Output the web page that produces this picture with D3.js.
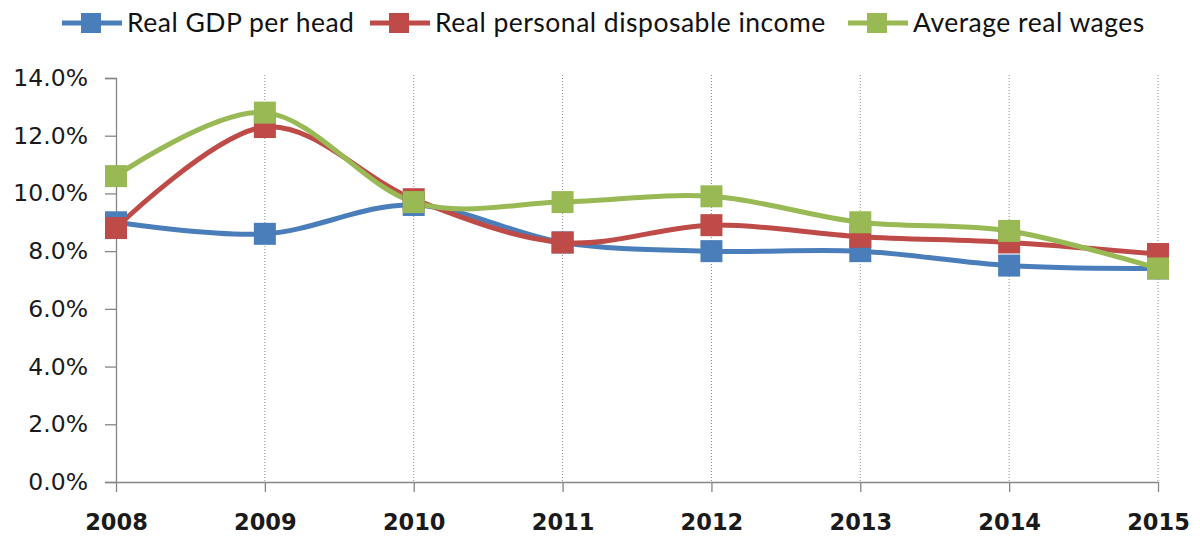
<!DOCTYPE html>
<html>
<head>
<meta charset="utf-8">
<script src="https://cdn.jsdelivr.net/npm/d3@7"></script>
<style>
  body { margin: 0; background: #fff; }
  svg { display: block; }
</style>
</head>
<body>
<div id="chart"></div>
<script>
// chart data
const years = ["2008", "2009", "2010", "2011", "2012", "2013", "2014", "2015"];
const gdpPerHead = [9.0, 8.6, 9.6, 8.3, 8.0, 8.0, 7.5, 7.4];
const disposableIncome = [8.8, 12.3, 9.8, 8.3, 8.9, 8.5, 8.3, 7.9];
const realWages = [10.6, 12.8, 9.7, 9.7, 9.9, 9.0, 8.7, 7.4];
const yTicks = [0, 2, 4, 6, 8, 10, 12, 14];

const seriesNames = ["Real GDP per head", "Real personal disposable income", "Average real wages"];
const seriesColors = ["#4a7ebb", "#be4b48", "#98b954"];
const seriesValues = [gdpPerHead, disposableIncome, realWages];

const width = 1200, height = 540;
const margin = { top: 78, right: 42, bottom: 58, left: 116 };

const svg = d3.select("#chart")
    .append("svg")
    .attr("width", width)
    .attr("height", height);

const x = d3.scalePoint()
    .domain(years)
    .range([margin.left, width - margin.right]);

const y = d3.scaleLinear()
    .domain([0, 14])
    .range([height - margin.bottom, margin.top]);

// dotted vertical gridlines (not on the first year, the axis sits there)
svg.append("g")
    .selectAll("line")
    .data(years.slice(1))
    .enter().append("line")
    .attr("x1", d => x(d))
    .attr("x2", d => x(d))
    .attr("y1", y(14) - 3)
    .attr("y2", y(0))
    .attr("stroke", "#8a8a8a")
    .attr("stroke-width", 1)
    .attr("stroke-dasharray", "1,2");

// y axis
const yAxis = svg.append("g")
    .attr("transform", `translate(${margin.left},0)`)
    .call(d3.axisLeft(y).tickValues(yTicks).tickSize(11).tickPadding(17)
        .tickFormat(d => d.toFixed(1) + "%"));
yAxis.select(".domain").attr("stroke", "#868686").attr("stroke-width", 1.3);
yAxis.selectAll(".tick line").attr("stroke", "#868686").attr("stroke-width", 1.3);
yAxis.selectAll("text")
    .attr("font-family", "DejaVu Sans")
    .attr("font-size", 23.5)
    .attr("fill", "#1a1a1a");

// x axis
const xAxis = svg.append("g")
    .attr("transform", `translate(0,${y(0)})`)
    .call(d3.axisBottom(x).tickSize(10).tickPadding(22).tickSizeOuter(0));
xAxis.select(".domain").attr("stroke", "#868686").attr("stroke-width", 1.3);
xAxis.selectAll(".tick line").attr("stroke", "#868686").attr("stroke-width", 1.3);
xAxis.selectAll("text")
    .attr("font-family", "DejaVu Sans")
    .attr("font-weight", "bold")
    .attr("font-size", 22.5)
    .attr("fill", "#1a1a1a");

// smoothed lines, like the spreadsheet "smoothed line" option
const line = d3.line()
    .x((d, i) => x(years[i]))
    .y(d => y(d))
    .curve(d3.curveCatmullRom.alpha(0));

const markerSize = 22;

seriesValues.forEach((values, s) => {
    svg.append("path")
        .datum(values)
        .attr("fill", "none")
        .attr("stroke", seriesColors[s])
        .attr("stroke-width", 5)
        .attr("d", line);
});

seriesValues.forEach((values, s) => {
    svg.append("g")
        .selectAll("rect")
        .data(values)
        .enter().append("rect")
        .attr("x", (d, i) => x(years[i]) - markerSize / 2)
        .attr("y", d => y(d) - markerSize / 2)
        .attr("width", markerSize)
        .attr("height", markerSize)
        .attr("fill", seriesColors[s]);
});

// legend across the top
const legendX = [62, 370, 848];
const legend = svg.append("g");
seriesNames.forEach((name, s) => {
    const g = legend.append("g").attr("transform", `translate(${legendX[s]},23)`);
    g.append("line")
        .attr("x1", 0).attr("x2", 60)
        .attr("y1", 0).attr("y2", 0)
        .attr("stroke", seriesColors[s])
        .attr("stroke-width", 5);
    g.append("rect")
        .attr("x", 19).attr("y", -10)
        .attr("width", 20).attr("height", 20)
        .attr("fill", seriesColors[s]);
    g.append("text")
        .attr("x", 65)
        .attr("y", 9)
        .attr("font-family", "Lato")
        .attr("font-size", 26.5)
        .attr("letter-spacing", 0.5)
        .attr("fill", "#111")
        .text(name);
});
</script>
</body>
</html>
